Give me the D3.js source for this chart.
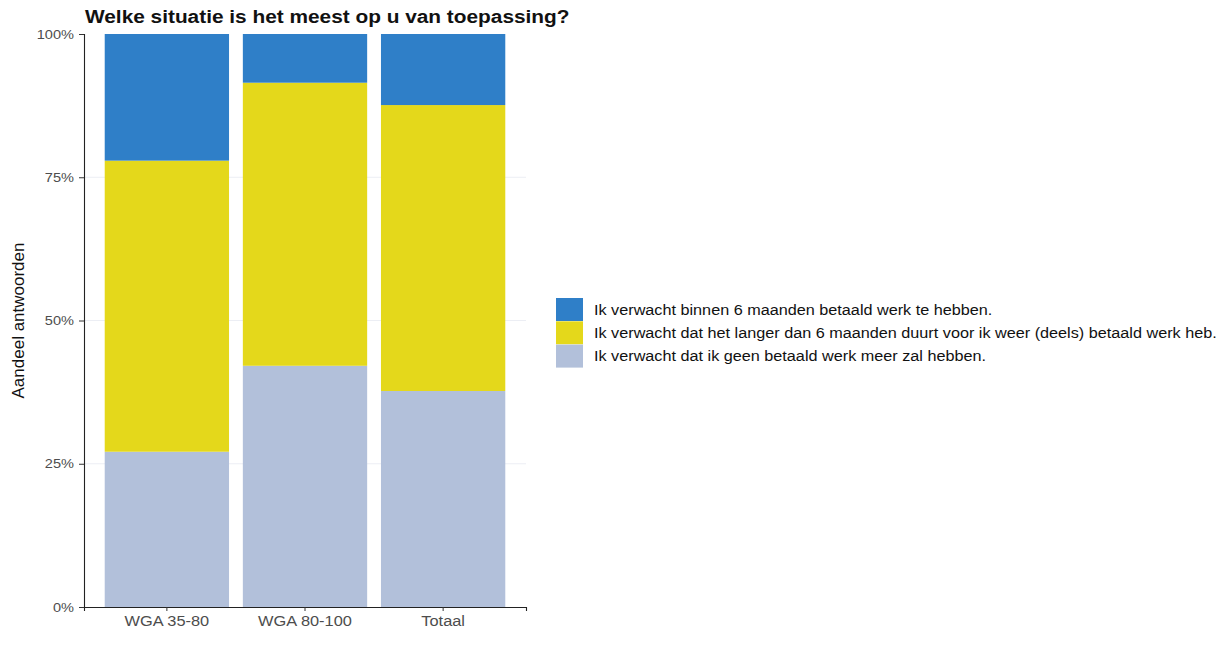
<!DOCTYPE html>
<html>
<head>
<meta charset="utf-8">
<script src="https://cdn.jsdelivr.net/npm/d3@7"></script>
<style>
  html, body { margin: 0; padding: 0; background: #ffffff; }
  svg { display: block; font-family: "Liberation Sans", Arial, Helvetica, sans-serif; }
</style>
</head>
<body>
<svg id="chart" width="1224" height="652"></svg>
<script>
// Groups on the x axis
const categories = ["WGA 35-80", "WGA 80-100", "Totaal"];

// Answer options, stacked from bottom to top
const answerKeys = ["geen", "langer", "binnen"];
const answerLabels = {
  binnen: "Ik verwacht binnen 6 maanden betaald werk te hebben.",
  langer: "Ik verwacht dat het langer dan 6 maanden duurt voor ik weer (deels) betaald werk heb.",
  geen: "Ik verwacht dat ik geen betaald werk meer zal hebben."
};
const legendOrder = ["binnen", "langer", "geen"];

// Shares (fractions) per group
const shareGeen   = [0.271, 0.421, 0.377];
const shareLanger = [0.508, 0.494, 0.499];
const shareBinnen = [0.221, 0.085, 0.124];

// Y axis ticks
const yTicks = [0, 0.25, 0.5, 0.75, 1];
const yTickLabels = ["0%", "25%", "50%", "75%", "100%"];

const colors = { binnen: "#2f7fc8", langer: "#e4d81b", geen: "#b2c0da" };

const rows = categories.map((c, i) => ({
  cat: c, geen: shareGeen[i], langer: shareLanger[i], binnen: shareBinnen[i]
}));

// the typeface is set slightly wide; widen each text run by a factor
function widen(sel, factor) {
  sel.each(function () {
    const w = this.getComputedTextLength();
    d3.select(this).attr("textLength", w * factor).attr("lengthAdjust", "spacingAndGlyphs");
  });
}

const svg = d3.select("#chart");
const plotLeft = 84, plotRight = 526, plotTop = 34, plotBottom = 607;

const x = d3.scaleBand().domain(categories).range([plotLeft, plotRight])
  .paddingInner(0.1).paddingOuter(0.15);
const y = d3.scaleLinear().domain([0, 1]).range([plotBottom, plotTop]);

// faint horizontal guides
svg.append("g").selectAll("line").data(yTicks.slice(1, 4)).join("line")
  .attr("x1", plotLeft).attr("x2", plotRight)
  .attr("y1", d => y(d)).attr("y2", d => y(d))
  .attr("stroke", "#eceef4").attr("stroke-width", 1);

const stack = d3.stack().keys(answerKeys)(rows);

svg.append("g").selectAll("g").data(stack).join("g")
  .attr("fill", d => colors[d.key])
  .selectAll("rect").data(d => d).join("rect")
  .attr("x", d => x(d.data.cat))
  .attr("width", x.bandwidth())
  .attr("y", d => y(d[1]))
  .attr("height", d => y(d[0]) - y(d[1]));

// Y axis
const yAxis = svg.append("g").attr("transform", `translate(${plotLeft},0)`)
  .call(d3.axisLeft(y).tickValues(yTicks).tickFormat((d, i) => yTickLabels[i]).tickSize(5).tickPadding(5));
yAxis.select(".domain").attr("stroke", "#222").attr("stroke-width", 1.1);
yAxis.selectAll(".tick line").attr("stroke", "#333");
yAxis.selectAll(".tick text").attr("fill", "#4d4d4d").style("font-size", "13px")
  .style("font-family", "Liberation Sans, Arial, sans-serif")
  .call(widen, 1.12);

// X axis
const xAxis = svg.append("g").attr("transform", `translate(0,${plotBottom})`)
  .call(d3.axisBottom(x).tickSize(4).tickPadding(5));
xAxis.select(".domain").attr("stroke", "#222").attr("stroke-width", 1.1);
xAxis.selectAll(".tick line").attr("stroke", "#333");
xAxis.selectAll(".tick text").attr("fill", "#4d4d4d").style("font-size", "14px")
  .style("font-family", "Liberation Sans, Arial, sans-serif")
  .call(widen, 1.17);

// Y axis title
svg.append("text")
  .attr("transform", `translate(24,${(plotTop + plotBottom) / 2}) rotate(-90)`)
  .attr("text-anchor", "middle")
  .style("font-size", "17px").attr("fill", "#111")
  .text("Aandeel antwoorden");

// Title
svg.append("text").attr("x", 85).attr("y", 23)
  .style("font-size", "17.5px").style("font-weight", "bold").attr("fill", "#111")
  .text("Welke situatie is het meest op u van toepassing?")
  .call(widen, 1.19);

// Legend
const legend = svg.append("g").attr("transform", "translate(556,298)");
const item = legend.selectAll("g").data(legendOrder).join("g")
  .attr("transform", (d, i) => `translate(0,${i * 23.3})`);
item.append("rect").attr("width", 27).attr("height", 23).attr("fill", d => colors[d]);
item.append("text").attr("x", 38).attr("y", 16.5)
  .style("font-size", "14px").attr("fill", "#111")
  .text(d => answerLabels[d])
  .call(widen, 1.158);
</script>
</body>
</html>
